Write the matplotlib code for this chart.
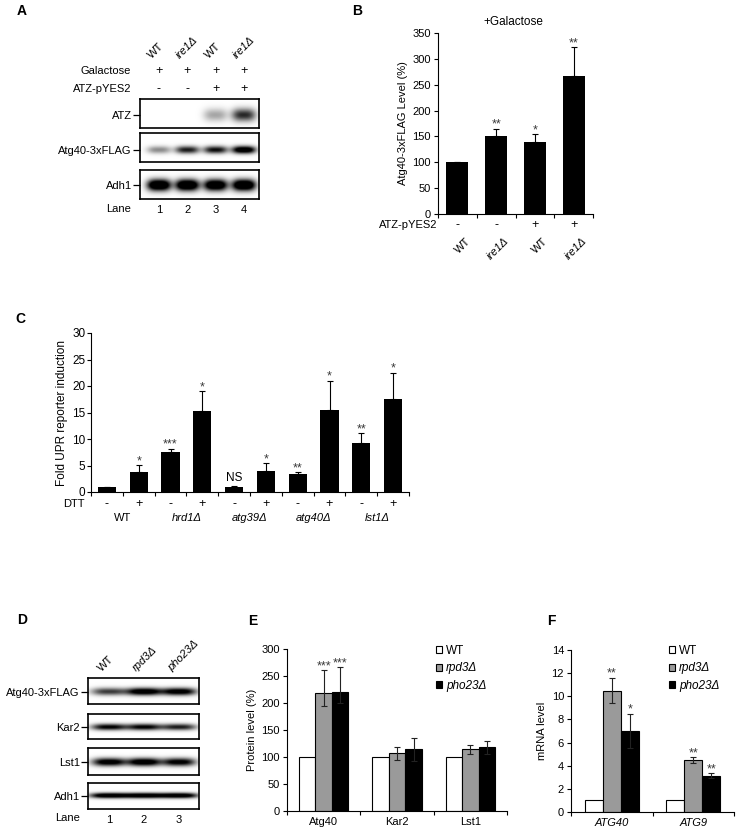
import numpy as np
import matplotlib
matplotlib.use('Agg')
import matplotlib.pyplot as plt
from matplotlib.patches import Patch

plt.rcParams['font.family'] = ['Liberation Sans', 'DejaVu Sans']
plt.rcParams['font.size'] = 8
plt.rcParams['axes.linewidth'] = 0.8

# ------------------------------------------------------------------ data
# Panel A (western blot)
a_strains = ['WT', 'ire1Δ', 'WT', 'ire1Δ']
a_galactose = ['+', '+', '+', '+']
a_atz = ['-', '-', '+', '+']
a_lanes = ['1', '2', '3', '4']
a_rows = ['ATZ', 'Atg40-3xFLAG', 'Adh1']
a_band_atz = [0.0, 0.0, 0.35, 0.85]
a_band_atg40 = [0.35, 0.7, 0.75, 1.0]
a_band_adh1 = [1.0, 1.0, 0.95, 1.0]

# Panel B
b_strains = ['WT', 'ire1Δ', 'WT', 'ire1Δ']
b_atz = ['-', '-', '+', '+']
b_values = [100, 151, 139, 267]
b_err = [0, 14, 15, 55]
b_sig = ['', '**', '*', '**']

# Panel C
c_groups = ['WT', 'hrd1Δ', 'atg39Δ', 'atg40Δ', 'lst1Δ']
c_dtt = ['-', '+', '-', '+', '-', '+', '-', '+', '-', '+']
c_values = [1.0, 3.8, 7.6, 15.2, 0.9, 4.0, 3.4, 15.5, 9.2, 17.6]
c_err = [0.0, 1.3, 0.6, 3.8, 0.15, 1.4, 0.3, 5.5, 1.9, 4.9]
c_sig = ['', '*', '***', '*', 'NS', '*', '**', '*', '**', '*']

# Panel D (western blot)
d_strains = ['WT', 'rpd3Δ', 'pho23Δ']
d_lanes = ['1', '2', '3']
d_rows = ['Atg40-3xFLAG', 'Kar2', 'Lst1', 'Adh1']
d_band_atg40 = [0.6, 0.95, 0.9]
d_band_kar2 = [0.8, 0.8, 0.7]
d_band_lst1 = [0.9, 0.95, 0.85]
d_band_adh1 = [0.85, 0.85, 0.85]

# Panel E
e_proteins = ['Atg40', 'Kar2', 'Lst1']
e_series = ['WT', 'rpd3Δ', 'pho23Δ']
e_wt = [100, 100, 100]
e_rpd3 = [218, 107, 114]
e_pho23 = [220, 114, 118]
e_rpd3_err_lo = [24, 12, 8]
e_rpd3_err_hi = [43, 12, 8]
e_pho23_err_lo = [20, 22, 12]
e_pho23_err_hi = [46, 22, 12]
e_sig_rpd3 = ['***', '', '']
e_sig_pho23 = ['***', '', '']

# Panel F
f_genes = ['ATG40', 'ATG9']
f_series = ['WT', 'rpd3Δ', 'pho23Δ']
f_wt = [1, 1]
f_rpd3 = [10.5, 4.5]
f_pho23 = [7.0, 3.15]
f_rpd3_err_lo = [1.1, 0.25]
f_rpd3_err_hi = [1.1, 0.25]
f_pho23_err_lo = [1.5, 0.2]
f_pho23_err_hi = [1.5, 0.2]
f_sig_rpd3 = ['**', '**']
f_sig_pho23 = ['*', '**']

# ------------------------------------------------------------------ layout helpers
W, H = 737, 831
fig = plt.figure(figsize=(W / 100, H / 100), dpi=100)
fig.patch.set_facecolor('white')


def rect(l, t, r, b):
    return [l / W, 1 - b / H, (r - l) / W, (b - t) / H]


def fx(x):
    return x / W


def fy(y):
    return 1 - y / H


def ay(top, bot, y):
    return (bot - y) / (bot - top)


GRAY = '#9a9a9a'
STAR = '#3a3a3a'
STAR_FS = 9


def blot(box, xlim, bands, yc, wy, label, wx=0.42, gain=1.3):
    l, t, r, b = box
    ax = fig.add_axes(rect(l, t, r, b))
    xs = np.linspace(xlim[0], xlim[1], 400)
    ys = np.linspace(0, 1, 100)
    X, Y = np.meshgrid(xs, ys)
    img = np.zeros_like(X)
    for k, inten in enumerate(bands, start=1):
        img += inten * np.exp(-np.abs((X - k) / wx) ** 3) * np.exp(-((Y - yc) / wy) ** 2)
    img = np.clip(img * gain, 0, 1)
    ax.imshow(img, extent=[xlim[0], xlim[1], 0, 1], origin='lower', cmap='gray_r',
              vmin=0, vmax=1, aspect='auto', interpolation='bilinear')
    ax.set_xlim(xlim)
    ax.set_ylim(0, 1)
    ax.set_xticks([])
    ax.set_yticks([yc])
    ax.set_yticklabels([label])
    ax.tick_params(axis='y', length=5, width=0.9, pad=1, labelsize=8)
    for s in ax.spines.values():
        s.set_linewidth(1.2)
    return ax


def letter(x, y, s):
    fig.text(fx(x), fy(y), s, fontsize=10, fontweight='bold', ha='center', va='center')


def star(ax, s, x, y):
    ax.annotate(s, (x, y), xytext=(0, -1.5), textcoords='offset points', ha='center',
                va='bottom', fontsize=STAR_FS, color=STAR)


# ------------------------------------------------------------------ Panel A
letter(22, 11, 'A')
xlimA = (0.33, 4.53)
axA1 = blot((140, 99, 259, 128), xlimA, a_band_atz, 0.45, 0.22, a_rows[0], gain=1.0)
axA2 = blot((140, 133, 259, 162), xlimA, a_band_atg40, 0.42, 0.13, a_rows[1])
axA3 = blot((140, 170, 259, 199), xlimA, a_band_adh1, 0.48, 0.2, a_rows[2], gain=1.5)
lanesA = np.arange(1, len(a_lanes) + 1)
tr = axA1.get_xaxis_transform()
for k, (s, g, z) in enumerate(zip(a_strains, a_galactose, a_atz), start=1):
    axA1.text(k - 0.2, ay(99, 128, 60), s, transform=tr, rotation=45, ha='left', va='bottom',
              rotation_mode='anchor', style='italic' if s != 'WT' else 'normal')
    axA1.text(k, ay(99, 128, 71), g, transform=tr, ha='center', va='center', fontsize=9)
    axA1.text(k, ay(99, 128, 89), z, transform=tr, ha='center', va='center', fontsize=9)
fig.text(fx(131), fy(71), 'Galactose', ha='right', va='center')
fig.text(fx(131), fy(89), 'ATZ-pYES2', ha='right', va='center')
axA3.set_xticks(lanesA)
axA3.set_xticklabels(a_lanes)
axA3.tick_params(axis='x', length=0, pad=4, labelsize=8)
fig.text(fx(131), fy(209), 'Lane', ha='right', va='center')

# ------------------------------------------------------------------ Panel B
letter(357, 11, 'B')
axB = fig.add_axes(rect(438, 33, 593, 214))
xb = np.arange(len(b_values))
axB.bar(xb, b_values, width=0.57, color='black')
axB.errorbar(xb, b_values, yerr=[np.zeros(len(b_err)), b_err], fmt='none', ecolor='black',
             elinewidth=0.8, capsize=2, capthick=0.8)
axB.set_xlim(-0.5, 3.5)
axB.set_ylim(0, 350)
axB.set_yticks(np.arange(0, 351, 50))
axB.set_xticks([])
axB.set_xticks(np.arange(-0.5, 4, 1), minor=True)
axB.tick_params(axis='x', which='minor', length=3, width=0.8)
axB.tick_params(axis='y', length=3, width=0.8, labelsize=8, pad=2)
axB.spines[['top', 'right']].set_visible(False)
axB.set_ylabel('Atg40-3xFLAG Level (%)', fontsize=8, labelpad=3)
fig.text(fx(513), fy(22), '+Galactose', ha='center', va='center', fontsize=8.5)
trB = axB.get_xaxis_transform()
fig.text(fx(437), fy(225), 'ATZ-pYES2', ha='right', va='center')
for x, s, z, v, e, sg in zip(xb, b_strains, b_atz, b_values, b_err, b_sig):
    axB.text(x, ay(33, 214, 225), z, transform=trB, ha='center', va='center', fontsize=9)
    axB.text(x + 0.2, ay(33, 214, 236), s, transform=trB, rotation=45, ha='right', va='top',
             rotation_mode='anchor', style='italic' if s != 'WT' else 'normal')
    if sg:
        star(axB, sg, x, v + e)

# ------------------------------------------------------------------ Panel C
letter(20, 319, 'C')
axC = fig.add_axes(rect(91, 333, 409, 492))
xc = np.arange(len(c_values))
axC.bar(xc, c_values, width=0.57, color='black')
axC.errorbar(xc, c_values, yerr=[np.zeros(len(c_err)), c_err], fmt='none', ecolor='black',
             elinewidth=0.8, capsize=2, capthick=0.8)
axC.set_xlim(-0.5, 9.5)
axC.set_ylim(0, 30)
axC.set_yticks(np.arange(0, 31, 5))
axC.set_xticks([])
axC.set_xticks(np.arange(-0.5, 10, 1), minor=True)
axC.tick_params(axis='x', which='minor', length=3, width=0.8)
axC.tick_params(axis='y', length=3, width=0.8, labelsize=8.5, pad=1)
axC.spines[['top', 'right']].set_visible(False)
axC.set_ylabel('Fold UPR reporter induction', fontsize=8.5, labelpad=3)
trC = axC.get_xaxis_transform()
fig.text(fx(85), fy(504), 'DTT', ha='right', va='center')
for x, d, v, e, sg in zip(xc, c_dtt, c_values, c_err, c_sig):
    axC.text(x, ay(333, 492, 504), d, transform=trC, ha='center', va='center', fontsize=9)
    if sg == 'NS':
        axC.annotate(sg, (x, v + e), xytext=(0, 1.5), textcoords='offset points', ha='center',
                     va='bottom', fontsize=8.5)
    elif sg:
        star(axC, sg, x, v + e)
for i, g in enumerate(c_groups):
    axC.text(2 * i + 0.5, ay(333, 492, 518), g, transform=trC, ha='center', va='center',
             style='italic' if g != 'WT' else 'normal')

# ------------------------------------------------------------------ Panel D
letter(22, 620, 'D')
xlimD = (0.4, 3.57)
axD1 = blot((88, 678, 199, 704), xlimD, d_band_atg40, 0.46, 0.14, d_rows[0], wx=0.5)
axD2 = blot((88, 714, 199, 739), xlimD, d_band_kar2, 0.48, 0.13, d_rows[1], wx=0.5)
axD3 = blot((88, 748, 199, 775), xlimD, d_band_lst1, 0.48, 0.15, d_rows[2], wx=0.48)
axD4 = blot((88, 783, 199, 809), xlimD, d_band_adh1, 0.5, 0.1, d_rows[3], wx=0.55, gain=1.5)
trD = axD1.get_xaxis_transform()
for k, s in enumerate(d_strains, start=1):
    axD1.text(k - 0.17, ay(678, 704, 673), s, transform=trD, rotation=45, ha='left', va='bottom',
              rotation_mode='anchor', style='italic' if s != 'WT' else 'normal')
axD4.set_xticks(np.arange(1, len(d_lanes) + 1))
axD4.set_xticklabels(d_lanes)
axD4.tick_params(axis='x', length=0, pad=4, labelsize=8)
fig.text(fx(80), fy(818), 'Lane', ha='right', va='center')


# ------------------------------------------------------------------ grouped bar helper
def grouped(ax, cats, wt, rpd3, pho23, r_lo, r_hi, p_lo, p_hi, sig_r, sig_p, w, ylim, ystep,
            ylabel, italic_cats, series, legend_anchor):
    x = np.arange(len(cats))
    ax.bar(x - w, wt, width=w, color='white', edgecolor='black', linewidth=0.8, label=series[0])
    ax.bar(x, rpd3, width=w, color=GRAY, edgecolor='black', linewidth=0.8, label=series[1])
    ax.bar(x + w, pho23, width=w, color='black', edgecolor='black', linewidth=0.8, label=series[2])
    ax.errorbar(x, rpd3, yerr=[r_lo, r_hi], fmt='none', ecolor='#222222', elinewidth=0.8,
                capsize=2, capthick=0.8)
    ax.errorbar(x + w, pho23, yerr=[p_lo, p_hi], fmt='none', ecolor='#222222', elinewidth=0.8,
                capsize=2, capthick=0.8)
    for xi, v, e, s in zip(x, rpd3, r_hi, sig_r):
        if s:
            star(ax, s, xi, v + e)
    for xi, v, e, s in zip(x, pho23, p_hi, sig_p):
        if s:
            star(ax, s, xi + w, v + e)
    ax.set_xlim(-0.5, len(cats) - 0.5)
    ax.set_ylim(*ylim)
    ax.set_yticks(np.arange(ylim[0], ylim[1] + ystep / 2, ystep))
    ax.set_xticks(x)
    ax.set_xticklabels(cats, style='italic' if italic_cats else 'normal')
    ax.set_xticks(np.arange(-0.5, len(cats), 1), minor=True)
    ax.tick_params(axis='x', which='major', length=0, pad=4, labelsize=8)
    ax.tick_params(axis='x', which='minor', length=3, width=0.8)
    ax.tick_params(axis='y', length=3, width=0.8, labelsize=8, pad=2)
    ax.spines[['top', 'right']].set_visible(False)
    ax.set_ylabel(ylabel, fontsize=8, labelpad=3)
    handles = [Patch(facecolor=c, edgecolor='black', linewidth=0.8) for c in ['white', GRAY, 'black']]
    leg = ax.legend(handles, series, loc='upper left', bbox_to_anchor=legend_anchor,
                    bbox_transform=fig.transFigure, frameon=False, handlelength=0.55,
                    handleheight=0.55, handletextpad=0.3, labelspacing=0.45, borderpad=0,
                    borderaxespad=0, fontsize=8.5)
    for t in leg.get_texts()[1:]:
        t.set_style('italic')


# ------------------------------------------------------------------ Panel E
letter(253, 621, 'E')
axE = fig.add_axes(rect(287, 649, 507, 811))
grouped(axE, e_proteins, e_wt, e_rpd3, e_pho23, e_rpd3_err_lo, e_rpd3_err_hi, e_pho23_err_lo,
        e_pho23_err_hi, e_sig_rpd3, e_sig_pho23, 0.225, (0, 300), 50, 'Protein level (%)',
        False, e_series, (fx(436), fy(645)))

# ------------------------------------------------------------------ Panel F
letter(551, 621, 'F')
axF = fig.add_axes(rect(571, 650, 734, 812))
grouped(axF, f_genes, f_wt, f_rpd3, f_pho23, f_rpd3_err_lo, f_rpd3_err_hi, f_pho23_err_lo,
        f_pho23_err_hi, f_sig_rpd3, f_sig_pho23, 0.22, (0, 14), 2, 'mRNA level', True,
        f_series, (fx(669), fy(645)))

fig.savefig('out.png', dpi=100, facecolor='white')
